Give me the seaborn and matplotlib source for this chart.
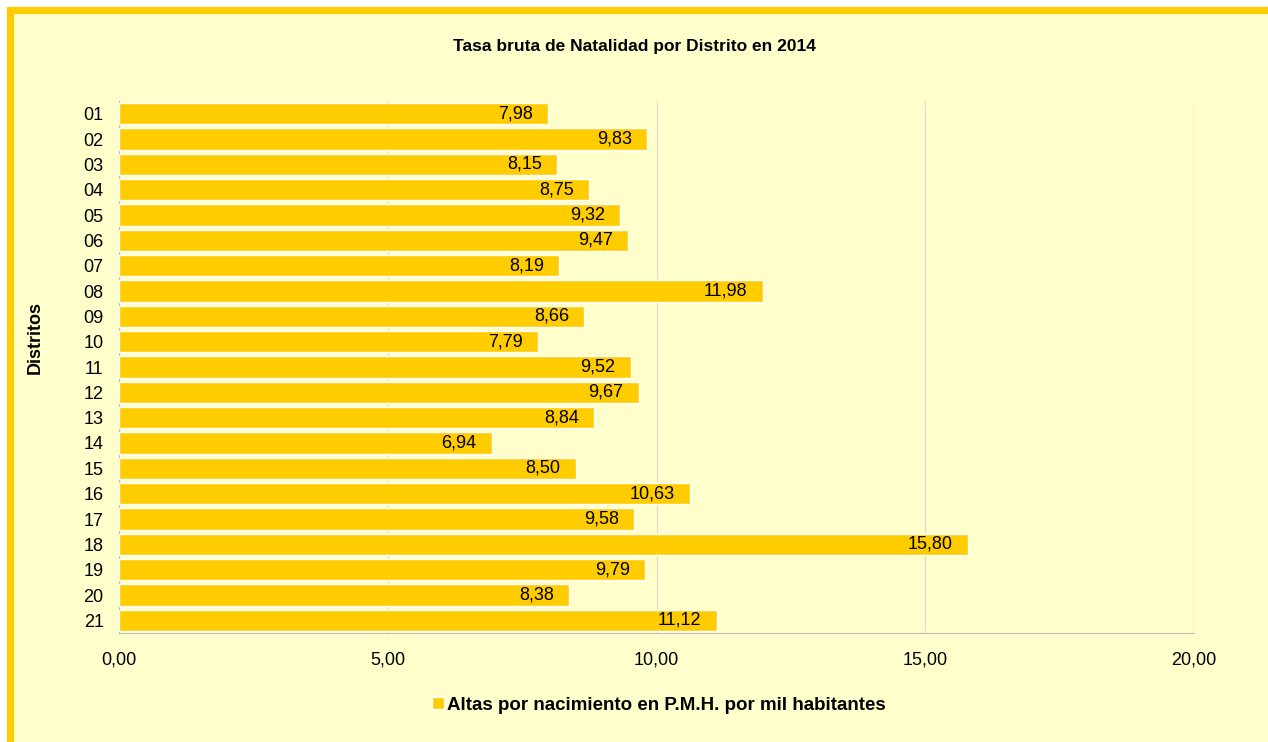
import matplotlib
matplotlib.use("Agg")
import matplotlib.pyplot as plt
from matplotlib.patches import Rectangle
import seaborn as sns
import pandas as pd
import numpy as np

distritos = ["01", "02", "03", "04", "05", "06", "07", "08", "09", "10", "11",
             "12", "13", "14", "15", "16", "17", "18", "19", "20", "21"]
tasas = [7.98, 9.83, 8.15, 8.75, 9.32, 9.47, 8.19, 11.98, 8.66, 7.79, 9.52,
         9.67, 8.84, 6.94, 8.50, 10.63, 9.58, 15.80, 9.79, 8.38, 11.12]
x_ticks = [0, 5, 10, 15, 20]
serie = "Altas por nacimiento en P.M.H. por mil habitantes"

df = pd.DataFrame({"Distrito": distritos, "Tasa": tasas})

sns.set_style("white")
plt.rcParams['font.family'] = ['Liberation Sans', 'DejaVu Sans']
plt.rcParams['text.color'] = 'black'

bar_color = "#FFCC00"
bg_color = "#FFFFCC"

fig = plt.figure(figsize=(12.68, 7.42), dpi=100)
fig.patch.set_facecolor("white")

# marco amarillo del grafico
frame = Rectangle((9.5 / 1268, -0.05), 1.1, 1.05 - 9.5 / 742,
                  transform=fig.transFigure, facecolor=bg_color,
                  edgecolor=bar_color, linewidth=5.2, zorder=-5)
fig.patches.append(frame)

ax = fig.add_axes([119 / 1268, 1 - 633 / 742, (1194 - 119) / 1268, (633 - 101) / 742])
ax.patch.set_alpha(0)

sns.barplot(data=df, y="Distrito", x="Tasa", orient="h", color=bar_color,
            width=0.83, saturation=1, ax=ax, zorder=3)

labels = [f"{v:.2f}".replace(".", ",") for v in tasas]
txts = ax.bar_label(ax.containers[0], labels=labels, padding=-11, fontsize=13,
                    color="black", label_type="edge")
for t in txts:
    t.set_ha("right")

ax.set_xlim(0, 20)
ax.set_ylim(len(distritos) - 0.5, -0.5)
ax.set_xticks(x_ticks)
ax.set_xticklabels([f"{t:.2f}".replace(".", ",") for t in x_ticks], fontsize=13)
ax.tick_params(axis="y", labelsize=13, length=0, pad=11, labelcolor="black")
ax.set_yticks(np.arange(-0.5, len(distritos), 1), minor=True)
ax.tick_params(axis="y", which="minor", length=5, color="#BBBBBB", direction="out")
ax.tick_params(axis="x", length=5, color="#BBBBBB", direction="out", pad=8,
               labelcolor="black")

ax.grid(axis="x", color="#E0E0C8", linewidth=1, zorder=0)
ax.set_axisbelow(True)
for s in ["top", "right"]:
    ax.spines[s].set_visible(False)
for s in ["left", "bottom"]:
    ax.spines[s].set_color("#BBBBBB")

ax.set_xlabel("")
ax.set_ylabel("Distritos", fontsize=13, fontweight="bold", color="black")
ax.yaxis.set_label_coords(-75 / 1075, (633 - 337) / 532)

fig.text(0.5, 1 - 46 / 742, "Tasa bruta de Natalidad por Distrito en 2014",
         ha="center", va="center", fontsize=12.5, fontweight="bold", color="black")

handles = [Rectangle((0, 0), 1, 1, facecolor=bar_color)]
leg = fig.legend(handles, [serie], loc="center", bbox_to_anchor=(0.52, 1 - 705 / 742),
                 frameon=False, handlelength=0.6, handleheight=0.6, handletextpad=0.2,
                 prop={"weight": "bold", "size": 13.5, "family": ["Liberation Sans", "DejaVu Sans"]})

fig.savefig("out.png", dpi=100, facecolor=fig.get_facecolor())
